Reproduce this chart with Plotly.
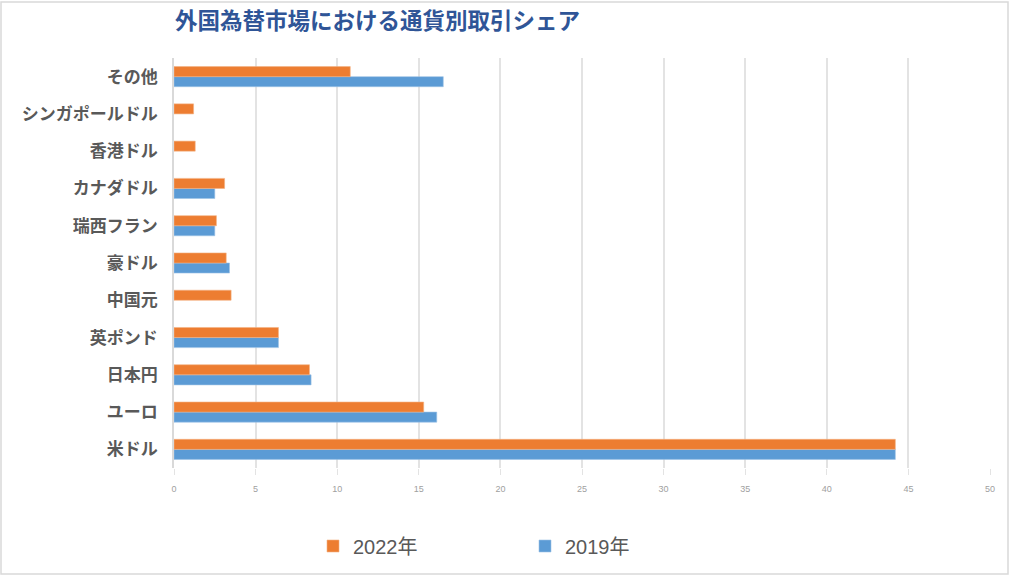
import plotly.graph_objects as go

categories = ["米ドル", "ユーロ", "日本円", "英ポンド", "中国元", "豪ドル",
              "瑞西フラン", "カナダドル", "香港ドル", "シンガポールドル", "その他"]
share_2022 = [44.2, 15.3, 8.3, 6.4, 3.5, 3.2, 2.6, 3.1, 1.3, 1.2, 10.8]
share_2019 = [44.2, 16.1, 8.4, 6.4, None, 3.4, 2.5, 2.5, None, None, 16.5]
tick_vals = [0, 5, 10, 15, 20, 25, 30, 35, 40, 45, 50]

PL, PR, PT, PB = 174, 990, 58, 468  # plot area in page pixels
W = PR - PL
H = PB - PT

fig = go.Figure()
fig.add_trace(go.Bar(y=categories, x=share_2019, name="2019年", orientation="h",
                     marker=dict(color="#5B9BD5", line=dict(color="#9DC3E6", width=0.6))))
fig.add_trace(go.Bar(y=categories, x=share_2022, name="2022年", orientation="h",
                     marker=dict(color="#ED7D31", line=dict(color="#F4B183", width=0.6))))

fig.update_layout(
    width=1024, height=576,
    margin=dict(l=PL, r=1024 - PR, t=PT, b=576 - PB, autoexpand=False),
    paper_bgcolor="white", plot_bgcolor="white",
    barmode="group", bargap=0.46, bargroupgap=0,
    font=dict(family="Noto Sans CJK JP, Noto Sans, sans-serif"),
    title=dict(text="<b>外国為替市場における通貨別取引シェア</b>",
               x=175/1024, xanchor="left", y=1-21/576, yanchor="middle",
               font=dict(size=22.5, color="#2F5597")),
    xaxis=dict(range=[0, 50], tickvals=tick_vals, showgrid=True,
               gridcolor="#E3E3E3", gridwidth=1.5, zeroline=False,
               ticks="outside", ticklen=6, tickcolor="#E3E3E3",
               ticklabelstandoff=6, automargin=False,
               tickfont=dict(size=9, color="#A0A0A0", family="Liberation Sans Narrow, Liberation Sans, sans-serif"),
               fixedrange=True),
    yaxis=dict(showline=True, linecolor="#D9D9D9", linewidth=1.5, ticks="",
               ticklabelstandoff=11, automargin=False, fixedrange=True,
               tickfont=dict(size=17, color="#595959"), showgrid=False),
    legend=dict(orientation="h", traceorder="reversed",
                x=(313-PL)/W, xanchor="left", y=-(546-PB)/H, yanchor="middle",
                entrywidth=167, entrywidthmode="pixels",
                font=dict(size=20, color="#595959",
                          family="Liberation Sans, Noto Sans CJK JP, sans-serif")),
)
fig.update_yaxes(tickprefix="<b>", ticksuffix="</b>")
fig.add_shape(type="rect", xref="paper", yref="paper",
              x0=(1-PL)/W, x1=(1008-PL)/W, y0=-(574-PB)/H, y1=1+(PT-2)/H,
              line=dict(color="#D9D9D9", width=1.5), layer="below")

fig.write_html("out.html", config={"displayModeBar": False},
               post_script="document.body.style.margin='0';")
